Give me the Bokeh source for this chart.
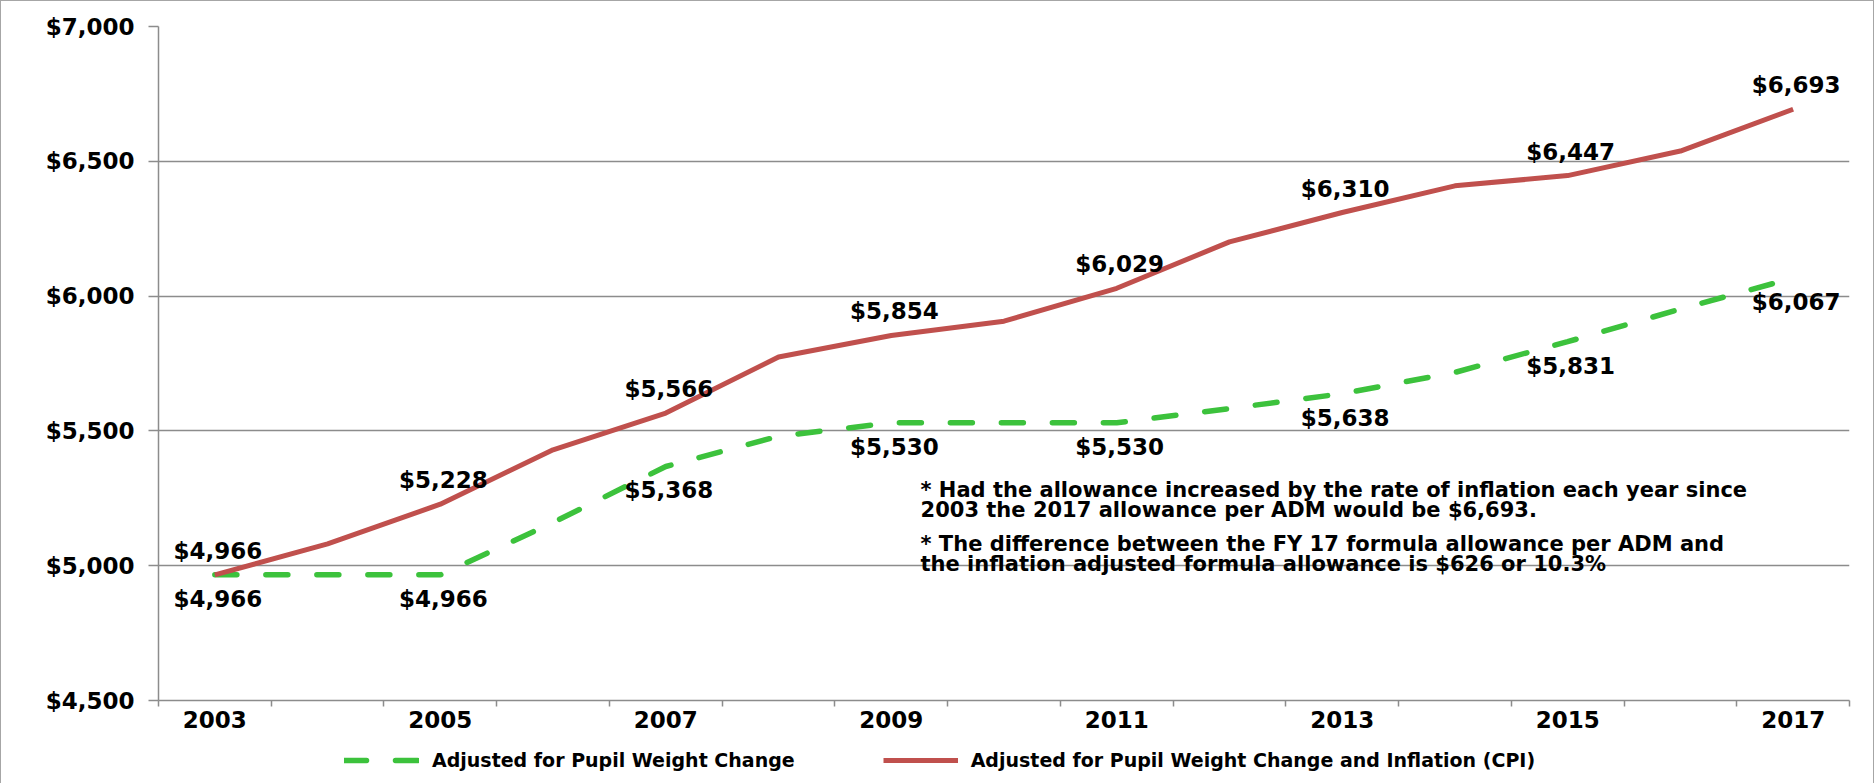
from bokeh.plotting import figure
from bokeh.layouts import column
from bokeh.models import (ColumnDataSource, FixedTicker, NumeralTickFormatter, PrintfTickFormatter,
                          Legend, LegendItem, Label, Range1d)
from bokeh.core.properties import value
from bokeh.embed import file_html
from bokeh.resources import INLINE

# ---------------- data ----------------
years = list(range(2003, 2018))
weight_adjusted = [4966, 4966, 4966, 5160, 5368, 5480, 5530, 5530, 5530, 5583, 5638, 5717, 5831, 5952, 6067]
inflation_adjusted = [4966, 5081, 5228, 5430, 5566, 5774, 5854, 5907, 6029, 6201, 6310, 6409, 6447, 6538, 6693]
label_years = [2003, 2005, 2007, 2009, 2011, 2013, 2015, 2017]
y_ticks = [4500, 5000, 5500, 6000, 6500, 7000]
series_names = ["Adjusted for Pupil Weight Change",
                "Adjusted for Pupil Weight Change and Inflation (CPI)"]
notes = ["* Had the allowance increased by the rate of inflation each year since",
         "2003 the 2017 allowance per ADM would be $6,693.",
         "* The difference between the FY 17 formula allowance per ADM and",
         "the inflation adjusted formula allowance is $626 or 10.3%"]
note_x = 2009.26
note_y = [5281, 5207, 5080, 5006]

GREEN = "#3CC23C"
RED = "#C0504D"
AXIS = "#8c8c8c"
FONT = "DejaVu Sans"
GREEN_STYLE = dict(line_color=GREEN, line_width=5.5, line_dash="22 29", line_cap="round")
RED_STYLE = dict(line_color=RED, line_width=5)

src = ColumnDataSource(dict(year=years, w=weight_adjusted, inf=inflation_adjusted))

def fmt(v):
    return "${:,}".format(v)

lab_idx = [years.index(y) for y in label_years]
red_lab = ColumnDataSource(dict(x=label_years, y=[inflation_adjusted[i] for i in lab_idx],
                                t=[fmt(inflation_adjusted[i]) for i in lab_idx]))
green_lab = ColumnDataSource(dict(x=label_years, y=[weight_adjusted[i] for i in lab_idx],
                                  t=[fmt(weight_adjusted[i]) for i in lab_idx]))

p = figure(width=1872, height=748, output_backend="svg", toolbar_location=None,
           x_range=Range1d(years[0] - 0.5, years[-1] + 0.5),
           y_range=Range1d(y_ticks[0], y_ticks[-1]))
p.min_border_left = 157
p.min_border_right = 24
p.min_border_top = 25
p.min_border_bottom = 49
p.outline_line_color = None
p.background_fill_color = "white"
p.border_fill_color = "white"

# grid
p.xgrid.visible = False
p.ygrid.ticker = FixedTicker(ticks=y_ticks)
p.ygrid.grid_line_color = AXIS
p.ygrid.grid_line_width = 1.3

# y axis
p.yaxis.ticker = FixedTicker(ticks=y_ticks)
p.yaxis.formatter = NumeralTickFormatter(format="$0,0")
p.yaxis.axis_line_color = AXIS
p.yaxis.axis_line_width = 1.5
p.yaxis.major_tick_line_color = AXIS
p.yaxis.major_tick_line_width = 1.5
p.yaxis.major_tick_out = 10
p.yaxis.major_tick_in = 0
p.yaxis.minor_tick_line_color = None
p.yaxis.major_label_standoff = 14
p.yaxis.major_label_text_font = FONT
p.yaxis.major_label_text_font_style = "bold"
p.yaxis.major_label_text_font_size = "23px"
p.yaxis.major_label_text_color = "black"

# x axis: labels at odd years, tick marks at category boundaries
bounds = [y - 0.5 for y in years] + [years[-1] + 0.5]
p.xaxis.ticker = FixedTicker(ticks=label_years, minor_ticks=bounds)
p.xaxis.formatter = PrintfTickFormatter(format="%d")
p.xaxis.axis_line_color = AXIS
p.xaxis.axis_line_width = 1.5
p.xaxis.major_tick_line_color = None
p.xaxis.minor_tick_line_color = AXIS
p.xaxis.minor_tick_line_width = 1.5
p.xaxis.minor_tick_out = 6
p.xaxis.minor_tick_in = 0
p.xaxis.major_label_standoff = 4
p.xaxis.major_label_text_font = FONT
p.xaxis.major_label_text_font_style = "bold"
p.xaxis.major_label_text_font_size = "23px"
p.xaxis.major_label_text_color = "black"

# lines
p.line("year", "w", source=src, **GREEN_STYLE)
p.line("year", "inf", source=src, **RED_STYLE)

# data labels
p.text("x", "y", text="t", source=red_lab, text_font=value(FONT), text_font_style="bold",
       text_font_size="23px", text_align="center", text_baseline="middle",
       text_color="black", x_offset=3, y_offset=-24)
p.text("x", "y", text="t", source=green_lab, text_font=value(FONT), text_font_style="bold",
       text_font_size="23px", text_align="center", text_baseline="middle",
       text_color="black", x_offset=3, y_offset=24)

# notes
for t, yv in zip(notes, note_y):
    p.add_layout(Label(x=note_x, y=yv, text=t, text_font=FONT, text_font_style="bold",
                       text_font_size="21px", text_baseline="middle", text_align="left",
                       text_color="black"))

# ---------------- legend strip ----------------
# the series are re-plotted here outside the visible range only to feed the legend samples
lg = figure(width=1872, height=34, output_backend="svg", toolbar_location=None,
            x_axis_location=None, y_axis_location=None,
            x_range=Range1d(0, 1), y_range=Range1d(0, 1))
lg.min_border = 0
lg.outline_line_color = None
lg.grid.visible = False
lg.background_fill_color = "white"
lg.border_fill_color = "white"
lg_g = lg.line("year", "w", source=src, **GREEN_STYLE)
lg_r = lg.line("year", "inf", source=src, **RED_STYLE)

legend = Legend(items=[LegendItem(label=series_names[0], renderers=[lg_g]),
                       LegendItem(label=series_names[1], renderers=[lg_r])],
                orientation="horizontal", location=(186, 12),
                label_text_font=FONT, label_text_font_style="bold",
                label_text_font_size="19px", label_text_color="black",
                glyph_width=75, glyph_height=20, label_standoff=13, spacing=88,
                padding=0, margin=0, border_line_color=None,
                background_fill_alpha=0)
lg.add_layout(legend)

layout = column(p, lg, spacing=0)
layout.styles = {"border": "1px solid #a6a6a6"}

open("out.html", "w").write(file_html(layout, INLINE))
